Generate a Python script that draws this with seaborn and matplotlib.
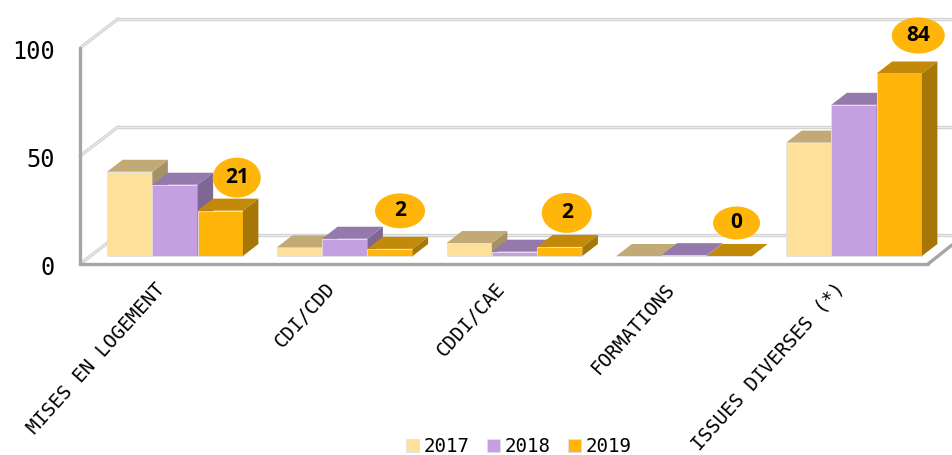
import matplotlib
matplotlib.use('Agg')
import matplotlib.pyplot as plt
from matplotlib.patches import Ellipse, Polygon
from matplotlib.transforms import ScaledTranslation
import pandas as pd
import seaborn as sns

categories = ['MISES EN LOGEMENT', 'CDI/CDD', 'CDDI/CAE', 'FORMATIONS', 'ISSUES DIVERSES (*)']
years = ['2017', '2018', '2019']
values_2017 = [39, 4, 6, 0, 52.5]
values_2018 = [33, 8, 2, 0.4, 70]
values_2019 = [21, 3.3, 4.2, 0, 84.5]
labels_2019 = ['21', '2', '2', '0', '84']
colors = ['#FFE09B', '#C49FE2', '#FFB50A']

W, H = 952, 455
PX_X = 169.75   # pixels per category
PX_Y = 2.16     # pixels per unit


def shade(c, f):
    r, g, b = matplotlib.colors.to_rgb(c)
    return (r * f, g * f, b * f)


df = pd.DataFrame({
    'cat': categories * 3,
    'year': [y for y in years for _ in categories],
    'val': values_2017 + values_2018 + values_2019,
})

sns.set_theme(style='white')
plt.rcParams['font.family'] = ['DejaVu Sans Mono']
plt.rcParams['text.color'] = 'black'

fig = plt.figure(figsize=(W / 100, H / 100), dpi=100)

# front plane of the box: axis line, ticks and labels
frame = fig.add_axes([80 / W, (H - 264) / H, 848 / W, 100 * PX_Y / H])
frame.set_xlim(-95 / PX_X, 753 / PX_X)
frame.set_ylim(0, 100)
for s in frame.spines.values():
    s.set_visible(False)
frame.set_yticks([0, 50, 100])
frame.set_xticks(range(len(categories)))
frame.set_xticklabels(categories, rotation=48, ha='right', rotation_mode='anchor', fontsize=13.8)
frame.tick_params(axis='x', length=0, pad=11, colors='black')
frame.tick_params(axis='y', length=0, pad=18, labelsize=17, colors='black')
for t in frame.get_xticklabels():
    t.set_transform(t.get_transform() + ScaledTranslation(-0.2, 0, fig.dpi_scale_trans))
for t in frame.get_yticklabels():
    t.set_verticalalignment('center')
    t.set_transform(t.get_transform() + ScaledTranslation(0, -0.04, fig.dpi_scale_trans))

x0, x1 = frame.get_xlim()
dx, dy = 38 / PX_X, 29 / PX_Y
for v in [0, 50, 100]:
    for col, lw in [('#D4D4D4', 2.4), ('#F4F4F4', 0.5)]:
        frame.plot([x0 + dx, x1 + 30 / PX_X], [v + dy, v + dy], color=col, lw=lw, clip_on=False, zorder=1)
        frame.plot([x0, x0 + dx], [v, v + dy], color=col, lw=lw, clip_on=False, zorder=1)
frame.plot([x0, x0], [0, 100], color='#A6A6A6', lw=2.4, clip_on=False, zorder=2)
frame.plot([x0, x1], [0, 0], color='#A6A6A6', lw=2.4, clip_on=False, zorder=2)
frame.plot([x1, x1 + 24 / PX_X], [0, 19 / PX_Y], color='#A6A6A6', lw=2.4, clip_on=False, zorder=2)

# bars sit a little behind the front plane
ax = fig.add_axes([(175 - 0.5 * PX_X) / W, (H - 256) / H, 5 * PX_X / W, 100 * PX_Y / H])
ax.patch.set_visible(False)
sns.barplot(data=df, x='cat', y='val', hue='year', hue_order=years, palette=colors,
            saturation=1, width=0.8, gap=0, edgecolor='#E2E2E2', linewidth=0.6, ax=ax)
ax.set_xlim(-0.5, 4.5)
ax.set_ylim(0, 100)
ax.set_xlabel('')
ax.set_ylabel('')
ax.set_xticks([])
ax.set_yticks([])
for s in ax.spines.values():
    s.set_visible(False)

bx, by = 15.5 / PX_X, 12 / PX_Y
for i, cont in enumerate(ax.containers):
    for bar in cont:
        bar.set_zorder(3 + i)
        bar.set_clip_on(False)
        l, w, h = bar.get_x(), bar.get_width(), bar.get_height()
        top = Polygon([(l, h), (l + w, h), (l + w + bx, h + by), (l + bx, h + by)],
                      fc=shade(colors[i], 0.76), ec='none', zorder=3 + i, clip_on=False)
        side = Polygon([(l + w, 0), (l + w + bx, by), (l + w + bx, h + by), (l + w, h)],
                       fc=shade(colors[i], 0.65), ec='none', zorder=3 + i, clip_on=False)
        ax.add_patch(side)
        ax.add_patch(top)

# value badges of the last series
badge_dx = [16.5, 10, 7, 7, 19]
badge_dy = [33, 38, 34, 33, 38]
badge_w = [48, 50, 50, 47, 53]
badge_h = [40, 35, 40, 33, 36]
for i, bar in enumerate(ax.containers[2]):
    cx = bar.get_x() + bar.get_width() / 2 + badge_dx[i] / PX_X
    cy = bar.get_height() + badge_dy[i] / PX_Y
    ax.add_patch(Ellipse((cx, cy), badge_w[i] / PX_X, badge_h[i] / PX_Y, fc=colors[2], ec='none',
                         zorder=10, clip_on=False))
    ax.text(cx, cy, labels_2019[i], ha='center', va='center', fontsize=15, fontweight='bold',
            family='Open Sans', color='black', zorder=11)

handles, leg_labels = ax.get_legend_handles_labels()
ax.legend(handles, leg_labels, ncol=3, frameon=False, fontsize=13.8, loc='center',
          bbox_to_anchor=(519 / W, (H - 447) / H), bbox_transform=fig.transFigure,
          handlelength=0.65, handleheight=0.65, handletextpad=0.27, columnspacing=0.9, borderpad=0)

fig.savefig('out.png', dpi=100)
